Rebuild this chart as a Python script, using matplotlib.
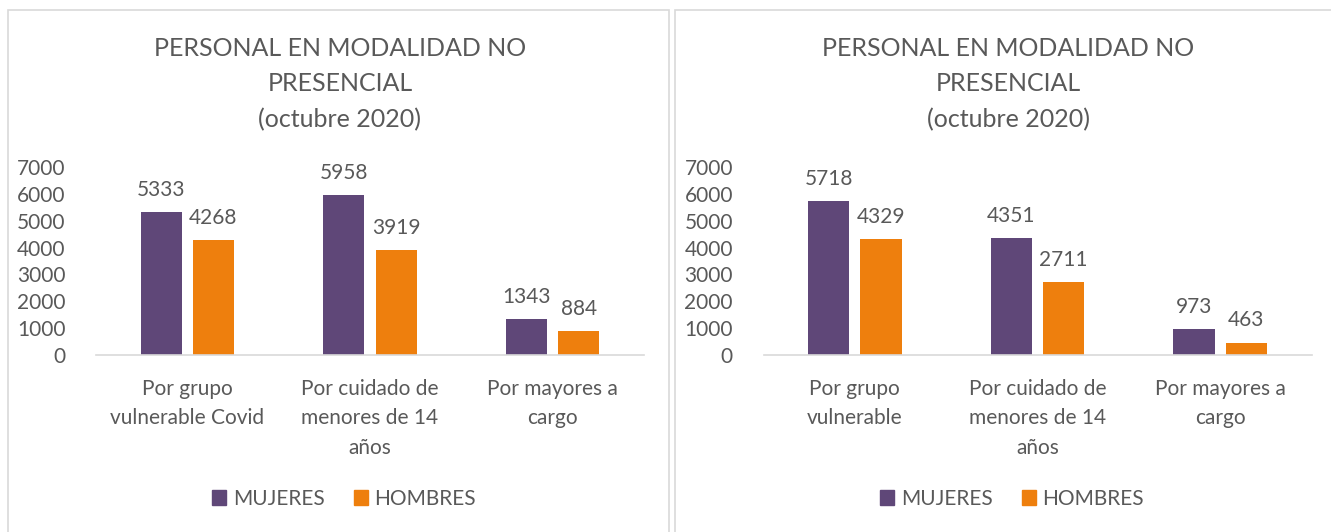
import matplotlib
matplotlib.use("Agg")
import matplotlib.pyplot as plt
from matplotlib.patches import Rectangle, Patch
import numpy as np

plt.rcParams['font.family'] = ['Lato', 'DejaVu Sans']

# ---------------------------------------------------------------
# data: two snapshots of remote-work staff, by reason and sex
# ---------------------------------------------------------------
TITLE = "PERSONAL EN MODALIDAD NO\nPRESENCIAL\n(octubre 2020)"
SERIES = ["MUJERES", "HOMBRES"]

cats_left = ["Por grupo\nvulnerable Covid", "Por cuidado de\nmenores de 14\naños", "Por mayores a\ncargo"]
mujeres_left = [5333, 5958, 1343]
hombres_left = [4268, 3919, 884]

cats_right = ["Por grupo\nvulnerable", "Por cuidado de\nmenores de 14\naños", "Por mayores a\ncargo"]
mujeres_right = [5718, 4351, 973]
hombres_right = [4329, 2711, 463]

yticks = [0, 1000, 2000, 3000, 4000, 5000, 6000, 7000]

PURPLE = '#5F4778'
ORANGE = '#EE7F0D'
TEXT = '#595959'
GRID = '#D9D9D9'

W, H = 1331, 532
fig = plt.figure(figsize=(W / 100, H / 100), dpi=100)


def panel(x0, x1, ax_left, cats, muj, hom, title_x, legend_x):
    # light frame around each chart
    fig.patches.append(Rectangle((x0 / W, -0.1), (x1 - x0) / W, 1.1 - 10 / H,
                                 transform=fig.transFigure, fill=False,
                                 edgecolor=GRID, linewidth=1.2))
    fig.text(title_x / W, 1 - 84 / H, TITLE, ha='center', va='center',
             fontsize=18, color=TEXT, linespacing=1.65)

    ax = fig.add_axes([ax_left / W, 1 - 355 / H, 548 / W, 188 / H])
    x = np.arange(len(cats))
    bw = 0.225
    off = 0.143
    b1 = ax.bar(x - off, muj, bw, color=PURPLE)
    b2 = ax.bar(x + off, hom, bw, color=ORANGE)
    for bars in (b1, b2):
        for r in bars:
            ax.annotate(f"{int(r.get_height())}",
                        (r.get_x() + r.get_width() / 2, r.get_height()),
                        xytext=(0, 16), textcoords='offset points',
                        ha='center', va='center', fontsize=15, color=TEXT)
    ax.set_xlim(-0.5, len(cats) - 0.5)
    ax.set_ylim(0, 7000)
    ax.set_yticks(yticks)
    ax.set_xticks(x)
    ax.set_xticklabels(cats, linespacing=1.6)
    ax.tick_params(axis='both', length=0, labelsize=15, colors=TEXT)
    ax.tick_params(axis='y', pad=22)
    ax.tick_params(axis='x', pad=17)
    for s in ('top', 'right', 'left'):
        ax.spines[s].set_visible(False)
    ax.spines['bottom'].set_color(GRID)
    ax.spines['bottom'].set_linewidth(1.2)

    handles = [Patch(color=PURPLE, label=SERIES[0]), Patch(color=ORANGE, label=SERIES[1])]
    fig.legend(handles=handles, loc='center', bbox_to_anchor=(legend_x / W, 1 - 499 / H),
               ncol=2, frameon=False, fontsize=15, labelcolor=TEXT,
               handlelength=0.7, handleheight=0.7, handletextpad=0.3,
               columnspacing=1.4)


panel(8, 669, 96, cats_left, mujeres_left, hombres_left, 340, 344)
panel(675, 1340, 763.5, cats_right, mujeres_right, hombres_right, 1008, 1012)

fig.savefig("out.png", dpi=100, facecolor='white')
